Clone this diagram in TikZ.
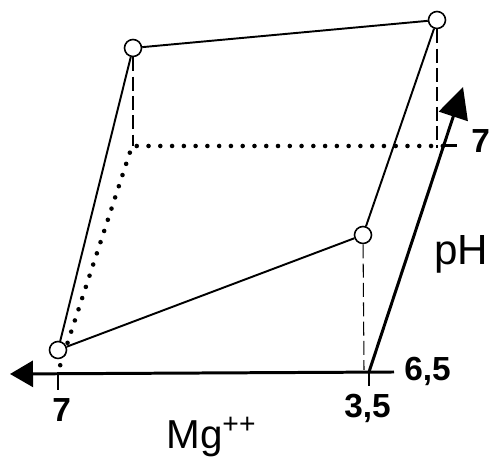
\documentclass[tikz,border=0pt]{standalone}
\usepackage{fontspec}
\setmainfont{Liberation Sans}
\usetikzlibrary{arrows.meta,calc,positioning}

\begin{document}
\begin{tikzpicture}[x=0.02cm,y=-0.02cm,
  axis/.style={line width=1.7pt},
  edge/.style={line width=1.1pt},
  drop/.style={line width=0.6pt,dash pattern=on 8pt off 3pt},
  dots/.style={line width=2.6pt,line cap=round,dash pattern=on 0pt off 6.7pt},
  pt/.style={circle,draw,line width=0.9pt,fill=white,inner sep=0pt,minimum size=0.34cm},
  lbl/.style={inner sep=0pt,anchor=base west},
  num/.style={lbl,font=\fontsize{19}{22}\selectfont\bfseries},
  mgtip/.style={-{Triangle[length=0.46cm,width=0.52cm]}},
  phtip/.style={-{Triangle[length=0.62cm,width=0.6cm]}}]
\useasboundingbox (0,0) rectangle (491,475);
% axes
\coordinate (O) at (369,372);
\coordinate (E) at (394,372);
\coordinate (MgEnd) at (10,374);
\coordinate (pHEnd) at (463,87);
\coordinate (m7) at (58,372);
\coordinate (p7) at (443,146);
\coordinate (q) at ($(m7)+(p7)-(O)$);
\draw[axis,mgtip] (E) -- (MgEnd);
\draw[axis,phtip] (O) -- (pHEnd);
\draw[axis] (m7) -- ++(0,18);
\draw[axis] (O) -- ++(0,14);
\draw[axis] (p7) -- ++(14,0);
% projection lines
\draw[dots] ($(m7)!0.03!(q)$) -- (q) -- (p7);
% points
\node[pt] (a) at (58,350) {};
\node[pt] (b) at (133,48) {};
\node[pt] (c) at (437,20) {};
\node[pt] (d) at (363,235) {};
\coordinate (bf) at (133,146);
\coordinate (cf) at (437,148);
\coordinate (df) at (364,370);
\draw[drop] (b) -- (bf);
\draw[drop] (c) -- (cf);
\draw[drop] (d) -- (df);
\draw[edge] (a) -- (b) -- (c) -- (d) -- (a);
% labels
\node[num] (l7) at (52,422) {7};
\node[num] (l35) at (344,418) {3,5};
\node[num] (l65) at (404,381) {6,5};
\node[num] (lp7) at (471,153) {7};
\node[lbl,font=\fontsize{24}{28}\selectfont] (ph) at (434,265) {pH};
\node[lbl,font=\fontsize{23}{28}\selectfont] (mg) at (166,449) {Mg\textsuperscript{++}};
\end{tikzpicture}
\end{document}
